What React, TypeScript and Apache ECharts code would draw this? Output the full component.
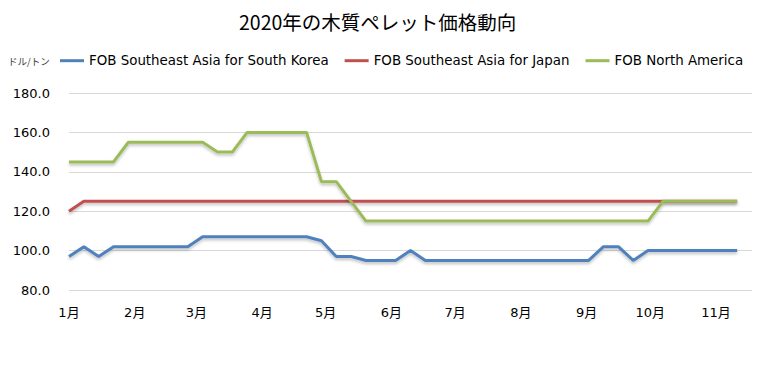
import React, { useEffect, useRef } from "react";
import * as echarts from "echarts";

const TITLE = "2020年の木質ペレット価格動向";
const UNIT = "ドル/トン";
const SERIES_NAMES = [
  "FOB Southeast Asia for South Korea",
  "FOB Southeast Asia for Japan",
  "FOB North America",
];
const COLORS = ["#4F81BD", "#C0504D", "#9BBB59"];

const dates = [
  "2020-01-01", "2020-01-08", "2020-01-15", "2020-01-22", "2020-01-29",
  "2020-02-05", "2020-02-12", "2020-02-19", "2020-02-26",
  "2020-03-04", "2020-03-11", "2020-03-18", "2020-03-25",
  "2020-04-01", "2020-04-08", "2020-04-15", "2020-04-22", "2020-04-29",
  "2020-05-06", "2020-05-13", "2020-05-20", "2020-05-27",
  "2020-06-03", "2020-06-10", "2020-06-17", "2020-06-24",
  "2020-07-01", "2020-07-08", "2020-07-15", "2020-07-22", "2020-07-29",
  "2020-08-05", "2020-08-12", "2020-08-19", "2020-08-26",
  "2020-09-02", "2020-09-09", "2020-09-16", "2020-09-23", "2020-09-30",
  "2020-10-07", "2020-10-14", "2020-10-21", "2020-10-28",
  "2020-11-04", "2020-11-11",
];

const southKorea = [
  97, 102, 97, 102, 102, 102, 102, 102, 102, 107,
  107, 107, 107, 107, 107, 107, 107, 105, 97, 97,
  95, 95, 95, 100, 95, 95, 95, 95, 95, 95,
  95, 95, 95, 95, 95, 95, 102, 102, 95, 100,
  100, 100, 100, 100, 100, 100,
];

const japan = [
  120, 125, 125, 125, 125, 125, 125, 125, 125, 125,
  125, 125, 125, 125, 125, 125, 125, 125, 125, 125,
  125, 125, 125, 125, 125, 125, 125, 125, 125, 125,
  125, 125, 125, 125, 125, 125, 125, 125, 125, 125,
  125, 125, 125, 125, 125, 125,
];

const northAmerica = [
  145, 145, 145, 145, 155, 155, 155, 155, 155, 155,
  150, 150, 160, 160, 160, 160, 160, 135, 135, 125,
  115, 115, 115, 115, 115, 115, 115, 115, 115, 115,
  115, 115, 115, 115, 115, 115, 115, 115, 115, 115,
  125, 125, 125, 125, 125, 125,
];

const monthStarts = [
  "2020-01-01", "2020-02-01", "2020-03-01", "2020-04-01", "2020-05-01",
  "2020-06-01", "2020-07-01", "2020-08-01", "2020-09-01", "2020-10-01",
  "2020-11-01",
];
const monthLabels = ["1月", "2月", "3月", "4月", "5月", "6月", "7月", "8月", "9月", "10月", "11月"];
const AXIS_MIN = "2020-01-01";
const AXIS_MAX = "2020-11-18";

const Y_MIN = 80;
const Y_MAX = 180;
const Y_STEP = 20;

function dayOf(s: string): number {
  const [y, m, d] = s.split("-").map(Number);
  const [y0, m0, d0] = AXIS_MIN.split("-").map(Number);
  return Math.round((Date.UTC(y, m - 1, d) - Date.UTC(y0, m0 - 1, d0)) / 86400000);
}

const FONT = "'DejaVu Sans', 'Noto Sans CJK JP', sans-serif";

export default function App() {
  const ref = useRef<HTMLDivElement>(null);
  useEffect(() => {
    if (!ref.current) return;
    const chart = echarts.init(ref.current, null, { renderer: "svg" });
    const allSeries = [southKorea, japan, northAmerica];
    const monthDays = monthStarts.map(dayOf);
    chart.setOption({
      animation: false,
      backgroundColor: "#ffffff",
      title: {
        text: TITLE,
        left: 234,
        top: 7,
        textStyle: {
          fontFamily: "'Noto Sans CJK JP', sans-serif",
          fontSize: 19.5,
          fontWeight: "normal",
          color: "#000000",
        },
      },
      graphic: [
        {
          type: "text",
          left: 8,
          top: 56,
          style: {
            text: UNIT,
            fontSize: 9.5,
            fontFamily: "'Noto Sans CJK JP', sans-serif",
            fill: "#404040",
          },
        },
      ],
      legend: {
        left: 60,
        top: 54,
        padding: 0,
        icon: "rect",
        itemWidth: 24,
        itemHeight: 3,
        itemGap: 16,
        textStyle: { fontFamily: FONT, fontSize: 13.4, color: "#000000" },
        data: SERIES_NAMES,
      },
      grid: { left: 69, right: 17, top: 93, bottom: 88, containLabel: false },
      xAxis: {
        type: "value",
        min: 0,
        max: dayOf(AXIS_MAX),
        axisLine: { show: false },
        axisTick: { show: false },
        splitLine: { show: false },
        axisLabel: {
          customValues: monthDays,
          margin: 16,
          fontFamily: FONT,
          fontSize: 13,
          color: "#000000",
          hideOverlap: false,
          showMinLabel: true,
          showMaxLabel: true,
          formatter: (v: number) => {
            const idx = monthDays.indexOf(Math.round(v));
            return idx >= 0 ? monthLabels[idx] : "";
          },
        },
      },
      yAxis: {
        type: "value",
        min: Y_MIN,
        max: Y_MAX,
        interval: Y_STEP,
        axisLine: { show: false },
        axisTick: { show: false },
        splitLine: { lineStyle: { color: "#D9D9D9", width: 1 } },
        axisLabel: {
          margin: 19,
          fontFamily: FONT,
          fontSize: 13,
          color: "#000000",
          formatter: (v: number) => v.toFixed(1),
        },
      },
      series: SERIES_NAMES.map((name, i) => ({
        name,
        type: "line",
        showSymbol: false,
        symbol: "none",
        color: COLORS[i],
        lineStyle: {
          width: 3,
          color: COLORS[i],
          shadowColor: "rgba(0,0,0,0.25)",
          shadowBlur: 3,
          shadowOffsetY: 2,
        },
        data: dates.map((d, k) => [dayOf(d), allSeries[i][k]]),
      })),
    });
    return () => chart.dispose();
  }, []);
  return (
    <div
      ref={ref}
      style={{ position: "absolute", left: 0, top: 0, width: 769, height: 378 }}
    />
  );
}
